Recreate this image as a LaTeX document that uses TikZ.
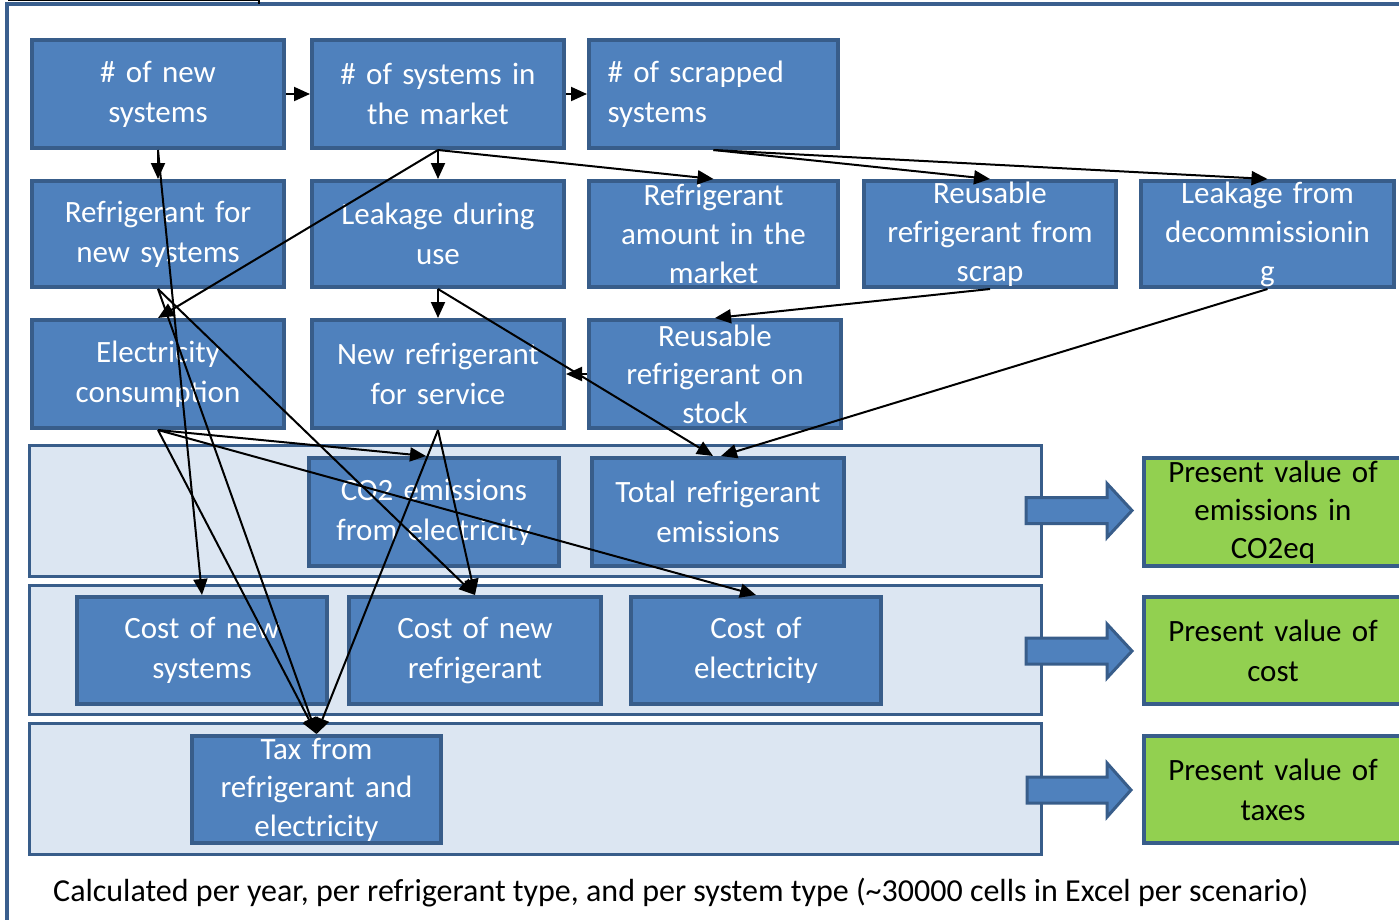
\documentclass[tikz,border=0pt]{standalone}
\usepackage{fontspec}
\setmainfont{Carlito}
\usetikzlibrary{arrows.meta}
\definecolor{boxfill}{HTML}{4F81BD}
\definecolor{boxline}{HTML}{385D8A}
\definecolor{bandfill}{HTML}{DCE6F2}
\definecolor{greenfill}{HTML}{92D050}
\definecolor{framecol}{HTML}{3A5F8E}
\begin{document}
\begin{tikzpicture}[x=1pt,y=-1pt,
  bbox/.style={draw=boxline, line width=4pt, fill=boxfill, text=white, inner sep=0pt,
    minimum height=108, align=center, text width=248,
    font=\fontsize{31}{40}\selectfont},
  gbox/.style={bbox, fill=greenfill, text=black},
  band/.style={draw=boxline, line width=3pt, fill=bandfill, inner sep=0pt,
    minimum width=1012, minimum height=131},
  conn/.style={draw=black, line width=2pt, -{Triangle[length=16pt,width=14pt]}},
  fat/.style={draw=boxline, line width=3pt, fill=boxfill, line join=miter}
]
\useasboundingbox (0,0) rectangle (1399,919);
% frame
\draw[framecol, line width=4pt] (7,925) -- (7,4) -- (1410,4);
\draw[black, line width=1.2pt] (8,0.6) -- (259,0.6);
\draw[black, line width=2pt] (259,0) -- (259,3.5);
% bands
\node[band] (band1) at (535.5,510.5) {};
\node[band, minimum height=129] (band2) at (535.5,650) {};
\node[band] (band3) at (535.5,789) {};
% block arrows
\foreach \yy/\xs in {510.5/0, 651/0, 790/1}{
  \draw[fat] (1026+\xs,\yy-13) -- (1107,\yy-13) -- (1107,\yy-27) -- (1132-\xs,\yy)
     -- (1107,\yy+27) -- (1107,\yy+13) -- (1026+\xs,\yy+13) -- cycle;
}
% row 1
\node[bbox, minimum width=252] (A) at (158,94) {\# of new\\systems};
\node[bbox, minimum width=252] (B) at (438,94) {\# of systems in\\the market};
\node[bbox, minimum width=249, align=left, text width=212] (C) at (713.5,94) {\# of scrapped\\systems};
% row 2
\node[bbox, minimum width=252, minimum height=106] (D) at (158,234) {Refrigerant for\\new systems};
\node[bbox, minimum width=252, minimum height=106] (E) at (438,234) {Leakage during\\use};
\node[bbox, minimum width=249, minimum height=106, font=\fontsize{31}{39}\selectfont] (F) at (713.5,234) {Refrigerant\\amount in the\\market};
\node[bbox, minimum width=252, minimum height=106, font=\fontsize{31}{39}\selectfont] (G) at (990,234) {Reusable\\refrigerant from\\scrap};
\node[bbox, minimum width=253, minimum height=106, font=\fontsize{31}{39}\selectfont] (H) at (1267.5,234) {Leakage from\\decommissionin\\g};
% row 3
\node[bbox, minimum width=252] (I) at (158,374) {Electricity\\consumption};
\node[bbox, minimum width=252] (J) at (438,374) {New refrigerant\\for service};
\node[bbox, minimum width=252, font=\fontsize{31}{38.5}\selectfont] (K) at (715,374) {Reusable\\refrigerant on\\stock};
% band 1
\node[bbox, minimum width=250] (L) at (434,512) {CO2 emissions\\from electricity};
\node[bbox, minimum width=252] (M) at (718,512) {Total refrigerant\\emissions};
\node[gbox, minimum width=258, font=\fontsize{31}{38}\selectfont] (N) at (1273,512) {Present value of\\emissions in\\CO2eq};
% band 2
\node[bbox, minimum width=250, minimum height=107] (O) at (202,650.5) {Cost of new\\systems};
\node[bbox, minimum width=252, minimum height=107] (P) at (475,650.5) {Cost of new\\refrigerant};
\node[bbox, minimum width=250, minimum height=107] (Q) at (756,650.5) {Cost of\\electricity};
\node[gbox, minimum width=258, minimum height=107] (R) at (1273,650.5) {Present value of\\cost};
% band 3
\node[bbox, minimum width=249, minimum height=107, font=\fontsize{31}{38.5}\selectfont] (S) at (316.5,789.5) {Tax from\\refrigerant and\\electricity};
\node[gbox, minimum width=258, minimum height=107] (T) at (1273,789.5) {Present value of\\taxes};
% caption
\node[anchor=west, inner sep=0pt, font=\fontsize{32}{38}\selectfont] (cap) at (53,893) {Calculated per year, per refrigerant type, and per system type (\textasciitilde 30000 cells in Excel per scenario)};
% connectors
\draw[conn] (A.east) -- (B.west);
\draw[conn] (B.east) -- (C.west);
\draw[conn] (A.south) -- (D.north);
\draw[conn] (A.south) -- (O.north);
\draw[conn] (B.south) -- (E.north);
\draw[conn] (B.south) -- (I.north);
\draw[conn] (B.south) -- (F.north);
\draw[conn] (C.south) -- (G.north);
\draw[conn] (C.south) -- (H.north);
\draw[conn] (D.south) -- (S.north);
\draw[conn] (D.south) -- (P.north);
\draw[conn] (E.south) -- (J.north);
\draw[conn] (E.south) -- ([xshift=-5pt]M.north);
\draw[conn] (G.south) -- (K.north);
\draw[conn] (H.south) -- ([xshift=3pt]M.north);
\draw[conn] (K.west) -- (J.east);
\draw[conn] (I.south) -- ([xshift=-8pt]L.north);
\draw[conn] (I.south) -- (Q.north);
\draw[conn] (I.south) -- (S.north);
\draw[conn] (J.south) -- (S.north);
\draw[conn] (J.south) -- (P.north);
\end{tikzpicture}
\end{document}
